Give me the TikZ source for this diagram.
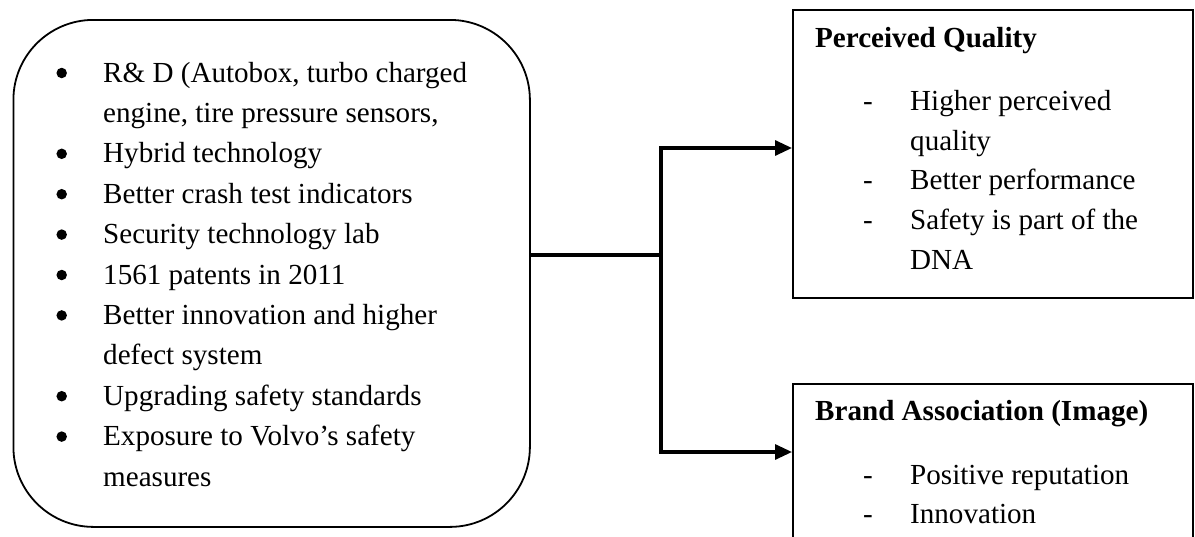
\documentclass[tikz,border=0pt]{standalone}
\usepackage{fontspec}
\setmainfont{Liberation Serif}
\usetikzlibrary{arrows.meta,calc}
\begin{document}
\begin{tikzpicture}[x=1pt,y=-1pt,
  box/.style={draw, line width=1.8pt, inner sep=0pt, anchor=north west},
  conn/.style={line width=3.2pt},
  arr/.style={conn, -{Triangle[length=17pt,width=15pt]}},
  txt/.style={anchor=base west, inner sep=0pt, font=\fontsize{29.1}{35}\selectfont},
  ttl/.style={anchor=base west, inner sep=0pt, font=\fontsize{29.1}{35}\selectfont\bfseries},
  dot/.style={circle, fill=black, inner sep=0pt, minimum size=10.5pt}]
\useasboundingbox (0,0) rectangle (1195,536);
\clip (0,0) rectangle (1195,536);

% boxes
\node[box, rounded corners=80pt, minimum width=516.5pt, minimum height=507pt] (src) at (12.5,19) {};
\node[box, minimum width=400pt, minimum height=288pt] (pq) at (792,9) {};
\node[box, minimum width=400pt, minimum height=240pt] (ba) at (792,383) {};

% connectors
\coordinate (j) at (661,255);
\draw[conn] (src.east |- j) -- (j);
\draw[arr] (j) |- ($(pq.north west)+(0,139)$);
\draw[arr] (j) |- ($(ba.north west)+(0,69)$);

% left box text
\node[txt] (s1) at (103,82) {R\& D (Autobox, turbo charged};
\node[txt] (s2) at (103,122.4) {engine, tire pressure sensors,};
\node[txt] (s3) at (103,162.8) {Hybrid technology};
\node[txt] (s4) at (103,203.2) {Better crash test indicators};
\node[txt] (s5) at (103,243.6) {Security technology lab};
\node[txt] (s6) at (103,284) {1561 patents in 2011};
\node[txt] (s7) at (103,324.4) {Better innovation and higher};
\node[txt] (s8) at (103,364.8) {defect system};
\node[txt] (s9) at (103,405.2) {Upgrading safety standards};
\node[txt] (s10) at (103,445.6) {Exposure to Volvo’s safety};
\node[txt] (s11) at (103,486) {measures};

\foreach \y/\n in {82/1,162.8/3,203.2/4,243.6/5,284/6,324.4/7,405.2/9,445.6/10}
  \node[dot] (d\n) at (61.7,\y-9) {};

% top right box
\node[ttl] (pqt) at (815,47) {Perceived Quality};
\node[txt] (p1) at (910,110) {Higher perceived};
\node[txt] (p2) at (910,150) {quality};
\node[txt] (p3) at (910,189) {Better performance};
\node[txt] (p4) at (910,229) {Safety is part of the};
\node[txt] (p5) at (910,269) {DNA};
\foreach \y/\n in {110/1,189/3,229/4}
  \node[txt] (pd\n) at (863,\y) {-};

% bottom right box
\node[ttl] (bat) at (815,420) {Brand Association (Image)};
\node[txt] (b1) at (910,484) {Positive reputation};
\node[txt] (b2) at (910,523) {Innovation};
\foreach \y/\n in {484/1,523/2}
  \node[txt] (bd\n) at (863,\y) {-};
\end{tikzpicture}
\end{document}
